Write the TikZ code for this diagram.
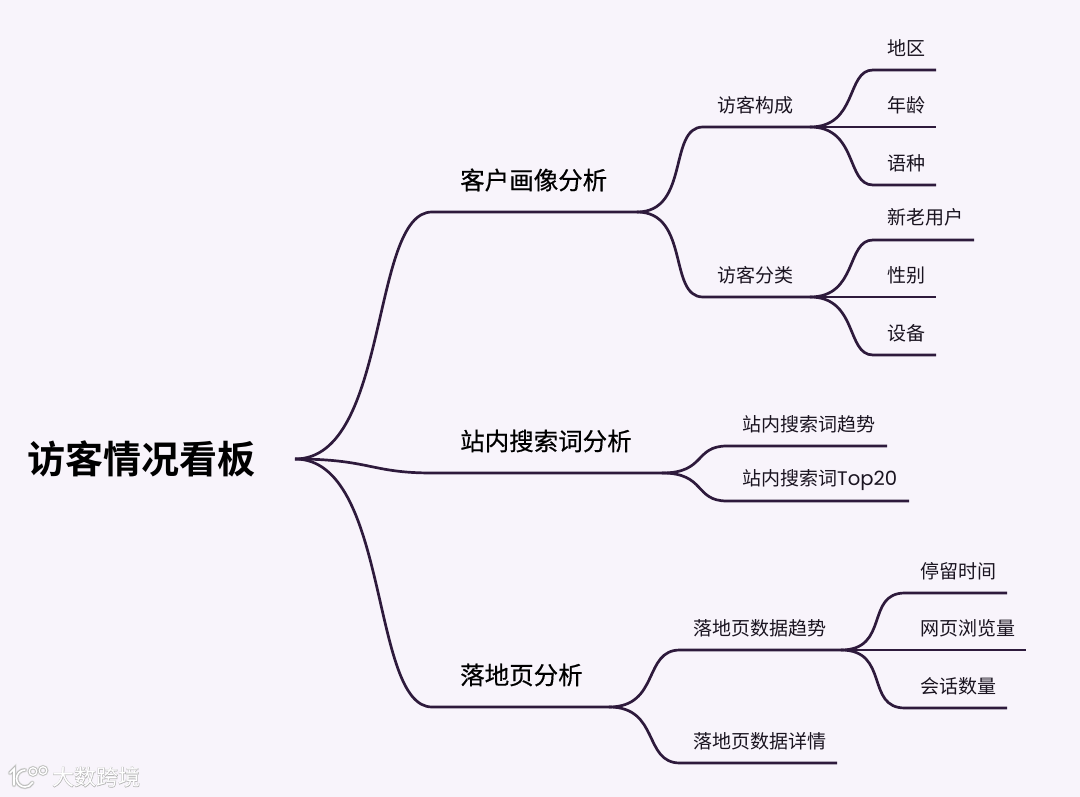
\documentclass[tikz,border=0pt]{standalone}
\usepackage{fontspec}
\setmainfont{Noto Sans CJK SC}[BoldFont={Noto Sans CJK SC Bold}]
\newfontfamily\latinf{Poppins}
\newfontfamily\boldcjk[FakeBold=0.5]{Noto Sans CJK SC}
\newfontfamily\glowcjk[FakeBold=3]{Noto Sans CJK SC}
\definecolor{bgc}{HTML}{F8F4FB}
\definecolor{linec}{HTML}{2E1A3C}
\definecolor{txtc}{HTML}{1A1420}
\tikzset{
 rootlabel/.style={anchor=west,inner sep=0pt,text=black,font=\bfseries\fontsize{38}{38}\selectfont},
 mainlabel/.style={anchor=west,inner sep=0pt,text=black,font=\boldcjk\fontsize{24.5}{25}\selectfont},
 leaflabel/.style={anchor=west,inner sep=0pt,text=txtc,font=\fontsize{19}{19}\selectfont},
 branch/.style={draw=linec,line width=2.7pt,line cap=butt},
}
\begin{document}
\begin{tikzpicture}[x=1pt,y=-1pt]
\useasboundingbox[fill=bgc] (0,0) rectangle (1080,797);
% junctions
\coordinate (r) at (295,459);
\coordinate (a0) at (432,212); \coordinate (a1) at (637,212);
\coordinate (b0) at (432,473); \coordinate (b1) at (662,473);
\coordinate (c0) at (432,707); \coordinate (c1) at (609,707);
\coordinate (a10) at (703,127); \coordinate (a11) at (810,127);
\coordinate (a20) at (703,297); \coordinate (a21) at (810,297);
\coordinate (b10) at (727,446); \coordinate (b1e) at (887,446);
\coordinate (b20) at (727,501); \coordinate (b2e) at (909,501);
\coordinate (c10) at (680,650); \coordinate (c11) at (841,650);
\coordinate (c20) at (680,763); \coordinate (c2e) at (837,763);
\coordinate (l1s) at (873,70); \coordinate (l1e) at (936,70);
\coordinate (l2e) at (936,127);
\coordinate (l3s) at (873,185); \coordinate (l3e) at (936,185);
\coordinate (l4s) at (873,240); \coordinate (l4e) at (974,240);
\coordinate (l5e) at (936,297);
\coordinate (l6s) at (873,355); \coordinate (l6e) at (936,355);
\coordinate (l7s) at (905,593); \coordinate (l7e) at (1007,593);
\coordinate (l8e) at (1026,650);
\coordinate (l9s) at (905,708); \coordinate (l9e) at (1007,708);
% labels
\node[rootlabel] (root) at (27,459) {访客情况看板};
\node[mainlabel] (A) at (460,180) {客户画像分析};
\node[mainlabel] (B) at (460,441) {站内搜索词分析};
\node[mainlabel] (C) at (460,675) {落地页分析};
\node[leaflabel] (A1) at (717.5,105.5) {访客构成};
\node[leaflabel] (A2) at (717.5,275.5) {访客分类};
\node[leaflabel] (B1) at (742,424.5) {站内搜索词趋势};
\node[leaflabel] (B2) at (742,480.5) {站内搜索词{\latinf\fontsize{19.6}{19}\selectfont Top20}};
\node[leaflabel] (C1) at (693,628.5) {落地页数据趋势};
\node[leaflabel] (C2) at (693,741) {落地页数据详情};
\node[leaflabel] (L1) at (887.5,48.5) {地区};
\node[leaflabel] (L2) at (887.5,105.5) {年龄};
\node[leaflabel] (L3) at (887.5,163.5) {语种};
\node[leaflabel] (L4) at (887.5,217.5) {新老用户};
\node[leaflabel] (L5) at (887.5,275.5) {性别};
\node[leaflabel] (L6) at (887.5,333.5) {设备};
\node[leaflabel] (L7) at (920.5,571.5) {停留时间};
\node[leaflabel] (L8) at (920.5,628.5) {网页浏览量};
\node[leaflabel] (L9) at (920.5,686) {会话数量};
% main branches
\draw[branch] (r) .. controls (390,459) and (370,212) .. (a0) -- (a1);
\draw[branch] (r) .. controls (370,459) and (370,473) .. (b0) -- (b1);
\draw[branch] (r) .. controls (390,459) and (370,707) .. (c0) -- (c1);
% second level
\draw[branch] (a1) .. controls (690,212) and (668,127) .. (a10) -- (a11);
\draw[branch] (a1) .. controls (690,212) and (668,297) .. (a20) -- (a21);
\draw[branch] (b1) .. controls (706,473) and (694,446) .. (b10) -- (b1e);
\draw[branch] (b1) .. controls (706,473) and (694,501) .. (b20) -- (b2e);
\draw[branch] (c1) .. controls (660,707) and (643,650) .. (c10) -- (c11);
\draw[branch] (c1) .. controls (660,707) and (643,763) .. (c20) -- (c2e);
% leaves
\draw[branch] (a11) .. controls (858,127) and (846,70) .. (l1s) -- (l1e);
\draw[branch] (a11) -- (l2e);
\draw[branch] (a11) .. controls (858,127) and (846,185) .. (l3s) -- (l3e);
\draw[branch] (a21) .. controls (858,297) and (846,240) .. (l4s) -- (l4e);
\draw[branch] (a21) -- (l5e);
\draw[branch] (a21) .. controls (858,297) and (846,355) .. (l6s) -- (l6e);
\draw[branch] (c11) .. controls (890,650) and (865,593) .. (l7s) -- (l7e);
\draw[branch] (c11) -- (l8e);
\draw[branch] (c11) .. controls (890,650) and (865,708) .. (l9s) -- (l9e);
% watermark
\begin{scope}[line cap=round]
 \foreach \w/\c in {4.5/black!14,3.2/black!28,1.6/white}{
  \draw[draw=\c,line width=\w pt] (10,773) -- (14,769) -- (14,785);
  \draw[draw=\c,line width=\w pt] (25,770) arc[start angle=270,end angle=30,radius=8.5];
  \draw[draw=\c,line width=0.8*\w pt] (33,771.5) circle[radius=3.8];
  \draw[draw=\c,line width=0.8*\w pt] (43,770.5) circle[radius=3.8];
 }
\end{scope}
\node[anchor=west,inner sep=0pt,text=black!30,font=\glowcjk\fontsize{22}{22}\selectfont] at (52,777) {大数跨境};
\node[anchor=west,inner sep=0pt,text=white,font=\fontsize{22}{22}\selectfont] (wm) at (52,777) {大数跨境};
\end{tikzpicture}
\end{document}
